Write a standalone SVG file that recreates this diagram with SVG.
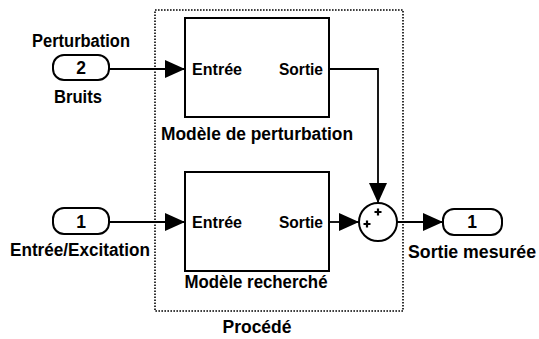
<svg xmlns="http://www.w3.org/2000/svg" width="539" height="339" viewBox="0 0 539 339">
<defs>
<style>
text{font-family:"Liberation Sans",Arial,Helvetica,sans-serif;font-weight:bold;fill:#000}
.lbl{font-size:17.5px}
.in{font-size:16px}
.blk{fill:#fff;stroke:#000;stroke-width:2}
.port{fill:#fff;stroke:#000;stroke-width:2}
.wire{fill:none;stroke:#000;stroke-width:1.8}
.frame{fill:none;stroke:#000;stroke-width:1.6;stroke-dasharray:1.6 1.4}
</style>
<marker id="arr" markerUnits="userSpaceOnUse" markerWidth="21" markerHeight="19" refX="20" refY="9" orient="auto">
<path d="M0,0 L20,9 L0,18 Z" fill="#000"/>
</marker>
</defs>
<rect id="procede" class="frame" x="155" y="10" width="248" height="301"/>
<g id="connectors">
<path class="wire" d="M109,69 H185" marker-end="url(#arr)"/>
<path class="wire" d="M109,222 H185" marker-end="url(#arr)"/>
<path class="wire" d="M329,69 H378 V203" marker-end="url(#arr)"/>
<path class="wire" d="M329,222 H359" marker-end="url(#arr)"/>
<path class="wire" d="M397,222 H443" marker-end="url(#arr)"/>
</g>
<g id="port-in2">
<rect class="port" x="53" y="55" width="56" height="25" rx="11"/>
<text class="lbl" x="81" y="74" text-anchor="middle">2</text>
<text class="lbl" x="81" y="47" text-anchor="middle" textLength="98" lengthAdjust="spacingAndGlyphs">Perturbation</text>
<text class="lbl" x="78" y="103" text-anchor="middle" textLength="48" lengthAdjust="spacingAndGlyphs">Bruits</text>
</g>
<g id="port-in1">
<rect class="port" x="53" y="208" width="56" height="26" rx="11"/>
<text class="lbl" x="81" y="228" text-anchor="middle">1</text>
<text class="lbl" x="80" y="256" text-anchor="middle" textLength="140" lengthAdjust="spacingAndGlyphs">Entrée/Excitation</text>
</g>
<g id="modele-perturbation">
<rect class="blk" x="185" y="18" width="144" height="99"/>
<text class="in" x="192" y="75" textLength="50" lengthAdjust="spacingAndGlyphs">Entrée</text>
<text class="in" x="323" y="75" text-anchor="end" textLength="44" lengthAdjust="spacingAndGlyphs">Sortie</text>
<text class="lbl" x="257" y="140" text-anchor="middle" textLength="192" lengthAdjust="spacingAndGlyphs">Modèle de perturbation</text>
</g>
<g id="modele-recherche">
<rect class="blk" x="185" y="172" width="144" height="99"/>
<text class="in" x="192" y="228" textLength="50" lengthAdjust="spacingAndGlyphs">Entrée</text>
<text class="in" x="323" y="228" text-anchor="end" textLength="44" lengthAdjust="spacingAndGlyphs">Sortie</text>
<text class="lbl" x="256" y="288" text-anchor="middle" textLength="143" lengthAdjust="spacingAndGlyphs">Modèle recherché</text>
</g>
<g id="somme">
<circle cx="378" cy="222" r="19" fill="#fff" stroke="#000" stroke-width="2"/>
<path d="M374.5,212 h7 M378,208.5 v7 M363.5,224 h7 M367,220.5 v7" stroke="#000" stroke-width="2.2"/>
</g>
<g id="port-out1">
<rect class="port" x="443" y="209" width="59" height="26" rx="11"/>
<text class="lbl" x="472" y="228" text-anchor="middle">1</text>
<text class="lbl" x="472" y="258" text-anchor="middle" textLength="128" lengthAdjust="spacingAndGlyphs">Sortie mesurée</text>
</g>
<text id="procede-label" class="lbl" x="257" y="333" text-anchor="middle" textLength="69" lengthAdjust="spacingAndGlyphs">Procédé</text>
</svg>
